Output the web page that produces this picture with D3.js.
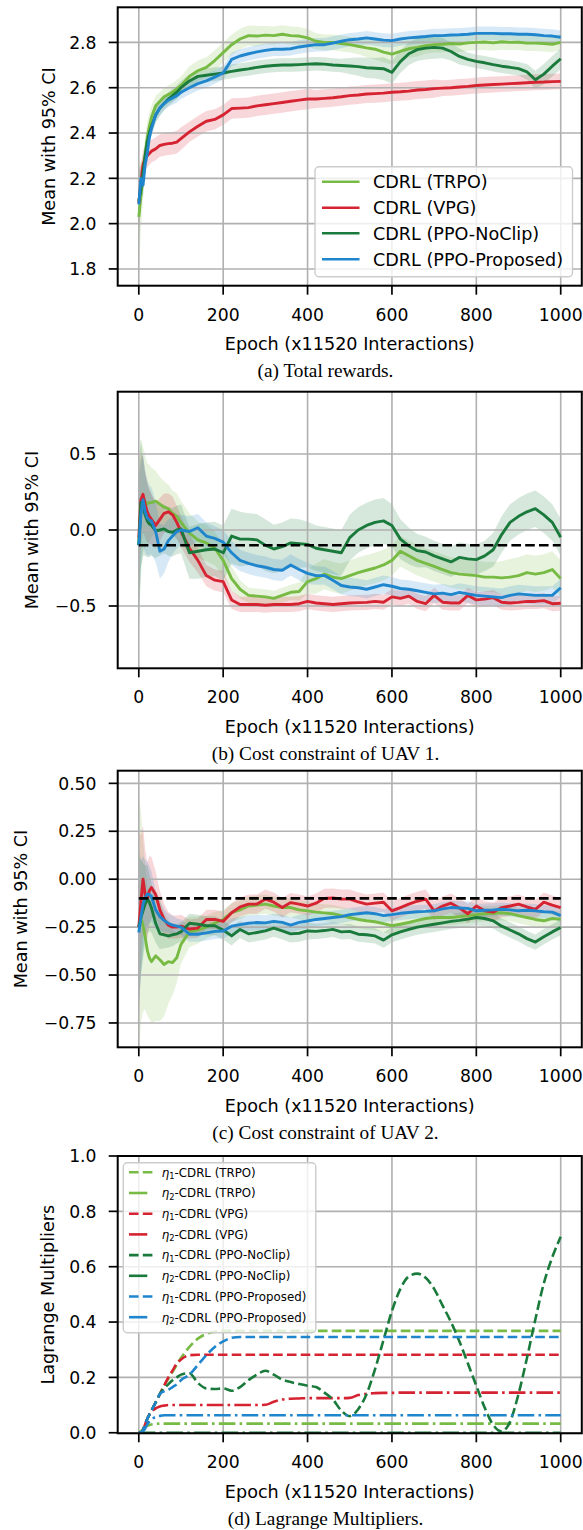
<!DOCTYPE html>
<html><head><meta charset="utf-8">
<script src="https://cdn.jsdelivr.net/npm/d3@7"></script>
<style>body{margin:0;background:#fff} svg{display:block}</style>
</head><body>
<svg id="fig" width="583" height="1530"></svg>
<script>
// ---------------- DATA ----------------
const epochs = [0,5,10,15,20,25,30,40,50,60,70,80,90,100,
 120,140,160,180,200,220,240,260,280,300,320,340,360,380,400,
 420,440,460,480,500,520,540,560,580,600,620,640,660,680,700,
 720,740,760,780,800,820,840,860,880,900,920,940,960,980,1000];

const seriesNames = ["CDRL (TRPO)","CDRL (VPG)","CDRL (PPO-NoClip)","CDRL (PPO-Proposed)"];
const seriesColors = ["#78bb44","#d62332","#1a7a3c","#1f85cd"];

// (a) Total rewards
const trpoA = [2.03,2.12,2.21,2.30,2.38,2.43,2.47,2.52,2.54,2.56,2.57,2.58,2.595,2.61,
 2.65,2.675,2.69,2.72,2.755,2.79,2.815,2.83,2.828,2.832,2.83,2.836,2.83,2.828,2.82,
 2.805,2.80,2.80,2.795,2.79,2.783,2.776,2.77,2.757,2.748,2.76,2.772,2.778,2.786,2.79,
 2.792,2.795,2.793,2.798,2.80,2.802,2.798,2.803,2.80,2.801,2.797,2.797,2.795,2.792,2.80];
const vpgA = [2.09,2.18,2.26,2.29,2.30,2.31,2.32,2.33,2.345,2.35,2.353,2.355,2.36,2.375,
 2.405,2.43,2.452,2.46,2.48,2.508,2.51,2.512,2.52,2.525,2.53,2.535,2.54,2.545,2.55,
 2.55,2.553,2.556,2.56,2.565,2.568,2.572,2.574,2.576,2.58,2.582,2.585,2.59,2.592,2.596,
 2.598,2.60,2.603,2.606,2.61,2.612,2.614,2.616,2.618,2.62,2.622,2.624,2.625,2.627,2.628];
const noclipA = [2.10,2.15,2.22,2.30,2.36,2.40,2.43,2.48,2.51,2.53,2.55,2.565,2.58,2.60,
 2.63,2.65,2.655,2.66,2.665,2.672,2.678,2.683,2.69,2.695,2.698,2.70,2.70,2.702,2.704,
 2.706,2.704,2.70,2.698,2.696,2.693,2.688,2.686,2.684,2.668,2.715,2.75,2.768,2.775,2.778,
 2.775,2.76,2.738,2.725,2.716,2.71,2.702,2.695,2.69,2.684,2.67,2.635,2.66,2.695,2.728];
const propA = [2.085,2.20,2.17,2.26,2.31,2.38,2.42,2.48,2.51,2.53,2.545,2.555,2.565,2.58,
 2.60,2.618,2.63,2.647,2.665,2.725,2.74,2.75,2.758,2.765,2.77,2.77,2.772,2.78,2.785,
 2.79,2.79,2.797,2.805,2.812,2.815,2.82,2.815,2.81,2.808,2.815,2.82,2.823,2.826,2.83,
 2.83,2.833,2.834,2.836,2.84,2.84,2.84,2.838,2.838,2.836,2.836,2.834,2.83,2.828,2.823];
const trpoCiA = [0.25,0.15,0.10,0.08,0.07,0.06,0.05,0.045,0.04,0.04,0.04,0.04,0.04,0.04,
 0.045,0.045,0.045,0.045,0.045,0.045,0.045,0.045,0.045,0.04,0.04,0.04,0.04,0.04,0.04,
 0.035,0.035,0.035,0.035,0.035,0.035,0.04,0.045,0.045,0.045,0.045,0.04,0.04,0.035,0.035,
 0.035,0.035,0.035,0.035,0.035,0.035,0.035,0.035,0.035,0.035,0.035,0.035,0.035,0.035,0.035];
const vpgCiA = [0.15,0.08,0.06,0.05,0.05,0.05,0.05,0.05,0.05,0.05,0.05,0.05,0.05,0.05,
 0.045,0.045,0.045,0.045,0.045,0.045,0.045,0.045,0.045,0.045,0.045,0.045,0.045,0.045,0.045,
 0.04,0.04,0.04,0.04,0.04,0.04,0.04,0.04,0.04,0.04,0.04,0.04,0.04,0.04,0.04,
 0.035,0.035,0.035,0.035,0.035,0.035,0.035,0.035,0.035,0.035,0.035,0.035,0.035,0.035,0.035];
const noclipCiA = [0.15,0.08,0.06,0.05,0.045,0.04,0.04,0.035,0.035,0.03,0.03,0.03,0.03,0.03,
 0.03,0.03,0.03,0.03,0.03,0.03,0.03,0.03,0.03,0.03,0.03,0.03,0.03,0.03,0.03,
 0.03,0.03,0.03,0.03,0.035,0.04,0.045,0.045,0.05,0.05,0.05,0.05,0.05,0.05,0.05,
 0.045,0.04,0.035,0.03,0.03,0.03,0.03,0.03,0.03,0.03,0.035,0.04,0.045,0.045,0.045];
const propCiA = [0.12,0.06,0.05,0.045,0.04,0.035,0.035,0.03,0.03,0.03,0.03,0.03,0.03,0.03,
 0.03,0.03,0.03,0.03,0.03,0.03,0.03,0.03,0.03,0.03,0.03,0.03,0.03,0.03,0.03,
 0.03,0.03,0.03,0.03,0.03,0.03,0.03,0.03,0.03,0.03,0.03,0.03,0.03,0.03,0.03,
 0.03,0.03,0.03,0.03,0.03,0.03,0.03,0.03,0.03,0.03,0.03,0.03,0.03,0.03,0.03];

// (b) Cost constraint of UAV 1
const trpoB = [-0.10,0.15,0.20,0.19,0.17,0.18,0.18,0.19,0.17,0.15,0.14,0.11,0.09,0.05,
 -0.02,-0.065,-0.085,-0.12,-0.20,-0.32,-0.39,-0.43,-0.435,-0.44,-0.45,-0.43,-0.41,-0.405,-0.34,
 -0.32,-0.29,-0.31,-0.32,-0.30,-0.28,-0.265,-0.25,-0.23,-0.20,-0.14,-0.17,-0.20,-0.22,-0.24,
 -0.26,-0.28,-0.29,-0.295,-0.30,-0.31,-0.31,-0.315,-0.31,-0.30,-0.28,-0.29,-0.28,-0.26,-0.32];
const vpgB = [-0.05,0.20,0.235,0.17,0.12,0.09,0.07,0.03,0.07,0.11,0.12,0.10,0.05,-0.01,
 -0.12,-0.20,-0.30,-0.33,-0.34,-0.46,-0.49,-0.49,-0.49,-0.495,-0.49,-0.49,-0.49,-0.485,-0.47,
 -0.48,-0.485,-0.49,-0.485,-0.48,-0.478,-0.476,-0.47,-0.475,-0.44,-0.45,-0.435,-0.47,-0.485,-0.43,
 -0.475,-0.48,-0.48,-0.43,-0.46,-0.455,-0.445,-0.475,-0.48,-0.476,-0.47,-0.47,-0.465,-0.485,-0.482];
const noclipB = [-0.10,0.18,0.15,0.10,0.06,0.04,0.03,-0.005,0.0,0.007,-0.01,-0.015,0.0,0.007,
 -0.15,-0.14,-0.13,-0.125,-0.15,-0.04,-0.06,-0.06,-0.065,-0.10,-0.125,-0.11,-0.085,-0.09,-0.095,
 -0.12,-0.13,-0.14,-0.15,-0.05,0.0,0.03,0.05,0.06,0.03,-0.06,-0.105,-0.136,-0.145,-0.17,
 -0.19,-0.21,-0.18,-0.19,-0.195,-0.17,-0.13,-0.03,0.05,0.09,0.12,0.14,0.10,0.05,-0.048];
const propB = [-0.10,0.10,0.20,0.12,0.08,0.065,0.06,-0.01,-0.14,-0.125,-0.07,-0.04,-0.01,0.0,
 -0.01,0.015,-0.04,-0.055,-0.08,-0.15,-0.20,-0.22,-0.235,-0.245,-0.26,-0.265,-0.23,-0.26,-0.285,
 -0.30,-0.30,-0.33,-0.365,-0.375,-0.38,-0.39,-0.375,-0.36,-0.37,-0.385,-0.39,-0.40,-0.41,-0.42,
 -0.415,-0.425,-0.41,-0.42,-0.43,-0.435,-0.44,-0.445,-0.43,-0.42,-0.425,-0.43,-0.43,-0.43,-0.38];
const trpoCiB = [0.55,0.45,0.35,0.30,0.27,0.25,0.23,0.20,0.18,0.17,0.16,0.15,0.15,0.14,
 0.13,0.12,0.12,0.11,0.10,0.08,0.06,0.05,0.05,0.05,0.05,0.05,0.05,0.06,0.08,
 0.10,0.10,0.10,0.10,0.10,0.10,0.10,0.10,0.10,0.10,0.10,0.10,0.10,0.10,0.10,
 0.10,0.10,0.10,0.10,0.10,0.10,0.10,0.11,0.12,0.12,0.12,0.12,0.12,0.12,0.12];
const vpgCiB = [0.40,0.30,0.25,0.22,0.20,0.18,0.17,0.15,0.14,0.13,0.12,0.12,0.11,0.10,
 0.09,0.08,0.07,0.07,0.07,0.06,0.05,0.05,0.05,0.05,0.05,0.05,0.05,0.05,0.05,
 0.05,0.05,0.05,0.05,0.05,0.05,0.05,0.05,0.05,0.05,0.05,0.05,0.05,0.05,0.05,
 0.05,0.05,0.05,0.05,0.05,0.05,0.05,0.05,0.05,0.05,0.05,0.05,0.05,0.05,0.05];
const noclipCiB = [0.55,0.42,0.32,0.27,0.24,0.22,0.20,0.18,0.17,0.16,0.16,0.16,0.16,0.16,
 0.17,0.18,0.18,0.18,0.18,0.18,0.18,0.17,0.17,0.17,0.16,0.16,0.16,0.16,0.15,
 0.15,0.15,0.15,0.15,0.15,0.15,0.15,0.15,0.15,0.14,0.13,0.12,0.11,0.10,0.10,
 0.10,0.10,0.10,0.10,0.10,0.10,0.11,0.12,0.12,0.12,0.12,0.12,0.12,0.12,0.12];
const propCiB = [0.45,0.35,0.30,0.27,0.25,0.23,0.22,0.20,0.18,0.16,0.14,0.12,0.11,0.10,
 0.10,0.09,0.09,0.08,0.08,0.08,0.07,0.07,0.07,0.07,0.07,0.07,0.07,0.07,0.07,
 0.06,0.06,0.06,0.06,0.06,0.06,0.06,0.06,0.06,0.06,0.06,0.06,0.06,0.06,0.06,
 0.06,0.06,0.06,0.06,0.06,0.06,0.06,0.06,0.06,0.06,0.06,0.06,0.06,0.06,0.06];

// (c) Cost constraint of UAV 2
const trpoC = [-0.25,-0.20,-0.24,-0.30,-0.37,-0.41,-0.43,-0.40,-0.42,-0.445,-0.43,-0.435,-0.41,-0.34,
 -0.275,-0.265,-0.25,-0.23,-0.21,-0.175,-0.16,-0.14,-0.135,-0.13,-0.14,-0.148,-0.148,-0.16,-0.165,
 -0.172,-0.176,-0.18,-0.19,-0.20,-0.21,-0.217,-0.222,-0.232,-0.243,-0.235,-0.226,-0.215,-0.205,-0.20,
 -0.20,-0.20,-0.195,-0.19,-0.185,-0.18,-0.178,-0.175,-0.18,-0.19,-0.20,-0.21,-0.217,-0.205,-0.209];
const vpgC = [-0.25,-0.12,0.0,-0.08,-0.11,-0.06,-0.043,-0.08,-0.16,-0.21,-0.24,-0.25,-0.25,-0.245,
 -0.26,-0.255,-0.21,-0.21,-0.22,-0.175,-0.145,-0.13,-0.13,-0.104,-0.12,-0.148,-0.122,-0.13,-0.14,
 -0.125,-0.10,-0.098,-0.104,-0.104,-0.118,-0.13,-0.125,-0.12,-0.165,-0.148,-0.13,-0.115,-0.104,-0.165,
 -0.14,-0.125,-0.15,-0.18,-0.14,-0.165,-0.172,-0.148,-0.14,-0.13,-0.145,-0.157,-0.12,-0.135,-0.148];
const noclipC = [-0.25,-0.20,-0.165,-0.13,-0.104,-0.12,-0.15,-0.23,-0.285,-0.29,-0.296,-0.29,-0.285,-0.275,
 -0.23,-0.235,-0.243,-0.243,-0.265,-0.296,-0.262,-0.285,-0.278,-0.27,-0.255,-0.27,-0.285,-0.282,-0.27,
 -0.272,-0.268,-0.262,-0.275,-0.272,-0.287,-0.29,-0.296,-0.318,-0.29,-0.275,-0.262,-0.25,-0.242,-0.235,
 -0.228,-0.22,-0.215,-0.208,-0.20,-0.205,-0.217,-0.245,-0.265,-0.285,-0.31,-0.328,-0.30,-0.275,-0.252];
const propC = [-0.278,-0.20,-0.13,-0.10,-0.078,-0.08,-0.09,-0.16,-0.195,-0.215,-0.23,-0.24,-0.245,-0.25,
 -0.287,-0.287,-0.28,-0.272,-0.27,-0.245,-0.237,-0.23,-0.226,-0.228,-0.22,-0.225,-0.24,-0.225,-0.218,
 -0.21,-0.205,-0.20,-0.195,-0.185,-0.18,-0.175,-0.18,-0.19,-0.185,-0.178,-0.174,-0.17,-0.168,-0.165,
 -0.155,-0.148,-0.15,-0.152,-0.165,-0.162,-0.16,-0.157,-0.16,-0.165,-0.162,-0.165,-0.17,-0.172,-0.19];
const trpoCiC = [0.70,0.55,0.45,0.38,0.34,0.32,0.32,0.34,0.32,0.27,0.22,0.17,0.13,0.10,
 0.08,0.07,0.06,0.06,0.05,0.05,0.05,0.05,0.05,0.05,0.05,0.05,0.05,0.05,0.05,
 0.045,0.045,0.045,0.045,0.045,0.045,0.045,0.045,0.045,0.045,0.045,0.045,0.045,0.045,0.045,
 0.04,0.04,0.04,0.04,0.04,0.04,0.04,0.04,0.04,0.04,0.04,0.04,0.04,0.04,0.04];
const vpgCiC = [0.50,0.35,0.28,0.24,0.20,0.18,0.16,0.12,0.10,0.08,0.07,0.06,0.06,0.06,
 0.05,0.05,0.05,0.05,0.05,0.05,0.05,0.05,0.05,0.05,0.05,0.05,0.05,0.05,0.05,
 0.05,0.05,0.05,0.05,0.05,0.05,0.05,0.05,0.05,0.05,0.05,0.05,0.05,0.05,0.05,
 0.05,0.05,0.05,0.05,0.05,0.05,0.05,0.05,0.05,0.05,0.05,0.05,0.05,0.05,0.05];
const noclipCiC = [0.40,0.30,0.25,0.20,0.18,0.15,0.13,0.10,0.08,0.07,0.06,0.06,0.05,0.05,
 0.05,0.05,0.05,0.05,0.05,0.05,0.045,0.045,0.045,0.045,0.045,0.045,0.045,0.045,0.045,
 0.04,0.04,0.04,0.04,0.04,0.04,0.04,0.04,0.04,0.04,0.04,0.04,0.04,0.04,0.04,
 0.04,0.04,0.04,0.04,0.04,0.04,0.04,0.04,0.04,0.04,0.04,0.04,0.04,0.04,0.04];
const propCiC = [0.40,0.30,0.25,0.20,0.17,0.15,0.13,0.10,0.08,0.06,0.05,0.05,0.04,0.04,
 0.04,0.04,0.04,0.04,0.04,0.04,0.04,0.04,0.04,0.04,0.04,0.04,0.04,0.04,0.04,
 0.035,0.035,0.035,0.035,0.035,0.035,0.035,0.035,0.035,0.035,0.035,0.035,0.035,0.035,0.035,
 0.035,0.035,0.035,0.035,0.035,0.035,0.035,0.035,0.035,0.035,0.035,0.035,0.035,0.035,0.035];
const constraintLevel = -0.1;

// (d) Lagrange multipliers
const eta1Trpo = [0,0.0,0.01,0.03,0.05,0.065,0.08,0.11,0.14,0.17,0.195,0.22,0.245,0.27,
 0.31,0.34,0.357,0.365,0.368,0.368,0.368,0.368,0.368,0.368,0.368,0.368,0.368,0.368,0.368,
 0.368,0.368,0.368,0.368,0.368,0.368,0.368,0.368,0.368,0.368,0.368,0.368,0.368,0.368,0.368,
 0.368,0.368,0.368,0.368,0.368,0.368,0.368,0.368,0.368,0.368,0.368,0.368,0.368,0.368,0.368];
const eta2Trpo = [0,0.005,0.012,0.02,0.025,0.028,0.03,0.032,0.033,0.033,0.033,0.033,0.033,0.033,
 0.033,0.033,0.033,0.033,0.033,0.033,0.033,0.033,0.033,0.033,0.033,0.033,0.033,0.033,0.033,
 0.033,0.033,0.033,0.033,0.033,0.033,0.033,0.033,0.033,0.033,0.033,0.033,0.033,0.033,0.033,
 0.033,0.033,0.033,0.033,0.033,0.033,0.033,0.033,0.033,0.033,0.033,0.033,0.033,0.033,0.033];
const eta1Vpg = [0,0.0,0.01,0.03,0.05,0.065,0.08,0.11,0.14,0.17,0.20,0.225,0.25,0.265,
 0.28,0.282,0.282,0.282,0.282,0.282,0.282,0.282,0.282,0.282,0.282,0.282,0.282,0.282,0.282,
 0.282,0.282,0.282,0.282,0.282,0.282,0.282,0.282,0.282,0.282,0.282,0.282,0.282,0.282,0.282,
 0.282,0.282,0.282,0.282,0.282,0.282,0.282,0.282,0.282,0.282,0.282,0.282,0.282,0.282,0.282];
const eta2Vpg = [0,0.0,0.01,0.03,0.05,0.065,0.075,0.088,0.095,0.098,0.10,0.10,0.10,0.10,
 0.10,0.10,0.10,0.10,0.10,0.10,0.10,0.10,0.10,0.101,0.112,0.12,0.123,0.124,0.125,
 0.125,0.125,0.125,0.125,0.126,0.136,0.141,0.143,0.144,0.144,0.145,0.145,0.145,0.145,0.145,
 0.145,0.145,0.145,0.145,0.145,0.145,0.145,0.145,0.145,0.145,0.145,0.145,0.145,0.145,0.145];
const eta1Noclip = [0,0.0,0.01,0.03,0.05,0.065,0.08,0.11,0.14,0.16,0.175,0.19,0.20,0.21,
 0.215,0.18,0.16,0.158,0.16,0.152,0.165,0.19,0.21,0.224,0.21,0.192,0.183,0.176,0.17,
 0.165,0.145,0.12,0.08,0.06,0.085,0.14,0.23,0.335,0.44,0.52,0.565,0.575,0.56,0.52,
 0.46,0.40,0.33,0.25,0.17,0.09,0.028,0.005,0.04,0.14,0.27,0.41,0.54,0.634,0.708];
const eta2Noclip = [0,0,0,0,0,0,0,0,0,0,0,0,0,0,
 0,0,0,0,0,0,0,0,0,0,0,0,0,0,0,
 0,0,0,0,0,0,0,0,0,0,0,0,0,0,0,
 0,0,0,0,0,0,0,0,0,0,0,0,0,0,0];
const eta1Prop = [0,0.0,0.01,0.03,0.05,0.065,0.08,0.11,0.14,0.15,0.155,0.165,0.175,0.19,
 0.21,0.245,0.28,0.31,0.33,0.343,0.346,0.346,0.346,0.346,0.346,0.346,0.346,0.346,0.346,
 0.346,0.346,0.346,0.346,0.346,0.346,0.346,0.346,0.346,0.346,0.346,0.346,0.346,0.346,0.346,
 0.346,0.346,0.346,0.346,0.346,0.346,0.346,0.346,0.346,0.346,0.346,0.346,0.346,0.346,0.346];
const eta2Prop = [0,0.0,0.005,0.015,0.03,0.04,0.048,0.057,0.061,0.063,0.063,0.063,0.063,0.063,
 0.063,0.063,0.063,0.063,0.063,0.063,0.063,0.063,0.063,0.063,0.063,0.063,0.063,0.063,0.063,
 0.063,0.063,0.063,0.063,0.063,0.063,0.063,0.063,0.063,0.063,0.063,0.063,0.063,0.063,0.063,
 0.063,0.063,0.063,0.063,0.063,0.063,0.063,0.063,0.063,0.063,0.063,0.063,0.063,0.063,0.063];
const lagrangeNames = ["CDRL (TRPO)","CDRL (TRPO)","CDRL (VPG)","CDRL (VPG)","CDRL (PPO-NoClip)","CDRL (PPO-NoClip)","CDRL (PPO-Proposed)","CDRL (PPO-Proposed)"];

const xTicks = [0,200,400,600,800,1000];

// ---------------- DRAW ----------------
const svg = d3.select('#fig');
const FONT = "'DejaVu Sans', sans-serif";
const L = 117.7, R = 581.8;
const x = d3.scaleLinear().domain([-50,1050]).range([L,R]);
const DASH = "9.6,4.2", DASHDOT = "16.6,4.2,2.6,4.2";
const LW = 2.6;

function drawPanel(p, idx) {
  const y = d3.scaleLinear().domain(p.yDomain).range([p.bottom, p.top]);
  const g = svg.append('g');
  const clipId = 'clip' + idx;
  svg.append('clipPath').attr('id', clipId).append('rect')
    .attr('x', L).attr('y', p.top).attr('width', R - L).attr('height', p.bottom - p.top);
  const plot = g.append('g').attr('clip-path', `url(#${clipId})`);

  (p.series || []).forEach(s => {
    if (!s.ci) return;
    const area = d3.area()
      .x((d, i) => x(epochs[i]))
      .y0((d, i) => y(s.vals[i] - s.ci[i]))
      .y1((d, i) => y(s.vals[i] + s.ci[i]));
    plot.append('path').datum(s.vals).attr('d', area)
      .attr('fill', s.color).attr('fill-opacity', 0.18).attr('stroke', 'none');
  });

  xTicks.forEach(t => g.append('line').attr('x1', x(t)).attr('x2', x(t))
    .attr('y1', p.top).attr('y2', p.bottom).attr('stroke', '#b0b0b0').attr('stroke-width', 1.6));
  p.yTicks.forEach(t => g.append('line').attr('x1', L).attr('x2', R)
    .attr('y1', y(t)).attr('y2', y(t)).attr('stroke', '#b0b0b0').attr('stroke-width', 1.6));

  const plot2 = g.append('g').attr('clip-path', `url(#${clipId})`);
  (p.series || []).forEach(s => {
    const line = d3.line().x((d, i) => x(epochs[i])).y(d => y(d));
    if (p.smooth) line.curve(d3.curveMonotoneX);
    plot2.append('path').datum(s.vals).attr('d', line)
      .attr('fill', 'none').attr('stroke', s.color).attr('stroke-width', p.lw || LW)
      .attr('stroke-linejoin', 'round')
      .attr('stroke-dasharray', s.dash || null);
  });

  if (p.constraint !== undefined) {
    plot2.append('line').attr('x1', x(0)).attr('x2', x(1000))
      .attr('y1', y(p.constraint)).attr('y2', y(p.constraint))
      .attr('stroke', '#000').attr('stroke-width', LW).attr('stroke-dasharray', DASH);
  }

  g.append('rect').attr('x', L).attr('y', p.top).attr('width', R - L).attr('height', p.bottom - p.top)
    .attr('fill', 'none').attr('stroke', '#000').attr('stroke-width', 2);

  xTicks.forEach(t => {
    g.append('line').attr('x1', x(t)).attr('x2', x(t)).attr('y1', p.bottom).attr('y2', p.bottom + 9)
      .attr('stroke', '#000').attr('stroke-width', 1.7);
    g.append('text').attr('x', x(t)).attr('y', p.bottom + 35).attr('text-anchor', 'middle')
      .attr('font-family', FONT).attr('font-size', 17.2).attr('fill', '#000').text(t);
  });
  p.yTicks.forEach(t => {
    g.append('line').attr('x1', L - 9).attr('x2', L).attr('y1', y(t)).attr('y2', y(t))
      .attr('stroke', '#000').attr('stroke-width', 1.7);
    g.append('text').attr('x', 96.5).attr('y', y(t) + 6.2).attr('text-anchor', 'end')
      .attr('font-family', FONT).attr('font-size', 17.2).attr('fill', '#000').text(p.fmt(t));
  });

  g.append('text').attr('x', (L + R) / 2).attr('y', p.bottom + 64.5).attr('text-anchor', 'middle')
    .attr('font-family', FONT).attr('font-size', 17.6).attr('fill', '#000')
    .text('Epoch (x11520 Interactions)');
  g.append('text').attr('transform', `translate(${p.ylabelX},${(p.top + p.bottom) / 2}) rotate(-90)`)
    .attr('dy', '0.36em').attr('text-anchor', 'middle')
    .attr('font-family', FONT).attr('font-size', 17.6).attr('fill', '#000').text(p.ylabel);
  g.append('text').attr('x', 325.5).attr('y', p.bottom + 91.5).attr('text-anchor', 'middle')
    .attr('font-family', "'Liberation Serif', 'Times New Roman', serif").attr('font-size', 19.3)
    .attr('fill', '#000').text(p.caption);
  return g;
}

const panelA = {
  top: 7.3, bottom: 285.7, yDomain: [1.726, 2.955], yTicks: [1.8, 2.0, 2.2, 2.4, 2.6, 2.8],
  fmt: d3.format('.1f'), ylabel: 'Mean with 95% CI', ylabelX: 48.6, caption: '(a) Total rewards.', lw: 2.9,
  series: [
    {vals: trpoA, ci: trpoCiA, color: seriesColors[0]},
    {vals: vpgA, ci: vpgCiA, color: seriesColors[1]},
    {vals: noclipA, ci: noclipCiA, color: seriesColors[2]},
    {vals: propA, ci: propCiA, color: seriesColors[3]}]
};
const panelB = {
  top: 391.7, bottom: 668.3, yDomain: [-0.91, 0.91], yTicks: [-0.5, 0, 0.5],
  fmt: d3.format('.1f'), ylabel: 'Mean with 95% CI', ylabelX: 31.8, caption: '(b) Cost constraint of UAV 1.',
  constraint: constraintLevel, lw: 2.9,
  series: [
    {vals: trpoB, ci: trpoCiB, color: seriesColors[0]},
    {vals: vpgB, ci: vpgCiB, color: seriesColors[1]},
    {vals: noclipB, ci: noclipCiB, color: seriesColors[2]},
    {vals: propB, ci: propCiB, color: seriesColors[3]}]
};
const panelC = {
  top: 770.7, bottom: 1047.3, yDomain: [-0.877, 0.566], yTicks: [-0.75, -0.5, -0.25, 0, 0.25, 0.5],
  fmt: d3.format('.2f'), ylabel: 'Mean with 95% CI', ylabelX: 20.6, caption: '(c) Cost constraint of UAV 2.',
  constraint: constraintLevel, lw: 2.9,
  series: [
    {vals: trpoC, ci: trpoCiC, color: seriesColors[0]},
    {vals: vpgC, ci: vpgCiC, color: seriesColors[1]},
    {vals: noclipC, ci: noclipCiC, color: seriesColors[2]},
    {vals: propC, ci: propCiC, color: seriesColors[3]}]
};
const lagrangeSeries = [
  {vals: eta1Trpo, color: seriesColors[0], dash: DASH, sub: '1'},
  {vals: eta2Trpo, color: seriesColors[0], dash: DASHDOT, sub: '2'},
  {vals: eta1Vpg, color: seriesColors[1], dash: DASH, sub: '1'},
  {vals: eta2Vpg, color: seriesColors[1], dash: DASHDOT, sub: '2'},
  {vals: eta1Noclip, color: seriesColors[2], dash: DASH, sub: '1'},
  {vals: eta2Noclip, color: seriesColors[2], dash: DASHDOT, sub: '2'},
  {vals: eta1Prop, color: seriesColors[3], dash: DASH, sub: '1'},
  {vals: eta2Prop, color: seriesColors[3], dash: DASHDOT, sub: '2'}];
const panelD = {
  top: 1156, bottom: 1433.3, yDomain: [-0.002, 1.0], yTicks: [0, 0.2, 0.4, 0.6, 0.8, 1.0],
  fmt: d3.format('.1f'), ylabel: 'Lagrange Multipliers', ylabelX: 47.8, caption: '(d) Lagrange Multipliers.',
  smooth: true, series: lagrangeSeries
};

drawPanel(panelA, 0);
drawPanel(panelB, 1);
drawPanel(panelC, 2);
drawPanel(panelD, 3);

// legend (a)
(function () {
  const lg = svg.append('g');
  lg.append('rect').attr('x', 315).attr('y', 166.7).attr('width', 257.5).attr('height', 110).attr('rx', 4)
    .attr('fill', '#fff').attr('fill-opacity', 0.8).attr('stroke', '#cccccc').attr('stroke-width', 1.4);
  const rows = [181.7, 207.7, 233.3, 259.3];
  seriesNames.forEach((n, i) => {
    lg.append('line').attr('x1', 322).attr('x2', 359.5).attr('y1', rows[i]).attr('y2', rows[i])
      .attr('stroke', seriesColors[i]).attr('stroke-width', LW);
    lg.append('text').attr('x', 373).attr('y', rows[i] + 6.3).attr('font-family', FONT)
      .attr('font-size', 17.6).attr('fill', '#000').text(n);
  });
})();

// legend (d)
(function () {
  const lg = svg.append('g');
  lg.append('rect').attr('x', 123.3).attr('y', 1162.7).attr('width', 192.5).attr('height', 170).attr('rx', 4)
    .attr('fill', '#fff').attr('fill-opacity', 0.8).attr('stroke', '#cccccc').attr('stroke-width', 1.4);
  lagrangeSeries.forEach((s, i) => {
    const yy = 1172.3 + i * 20.7;
    lg.append('line').attr('x1', 129).attr('x2', 153).attr('y1', yy).attr('y2', yy)
      .attr('stroke', s.color).attr('stroke-width', LW)
      .attr('stroke-dasharray', s.dash === DASH ? DASH : '18.3,12');
    const t = lg.append('text').attr('x', 161.8).attr('y', yy + 4.3).attr('font-family', FONT)
      .attr('font-size', 11.8).attr('fill', '#000');
    t.append('tspan').attr('font-style', 'italic').text('η');
    t.append('tspan').attr('font-size', 8.3).attr('dy', 2.2).text(s.sub);
    t.append('tspan').attr('dy', -2.2).text('-' + lagrangeNames[i]);
  });
})();
</script>
</body></html>
